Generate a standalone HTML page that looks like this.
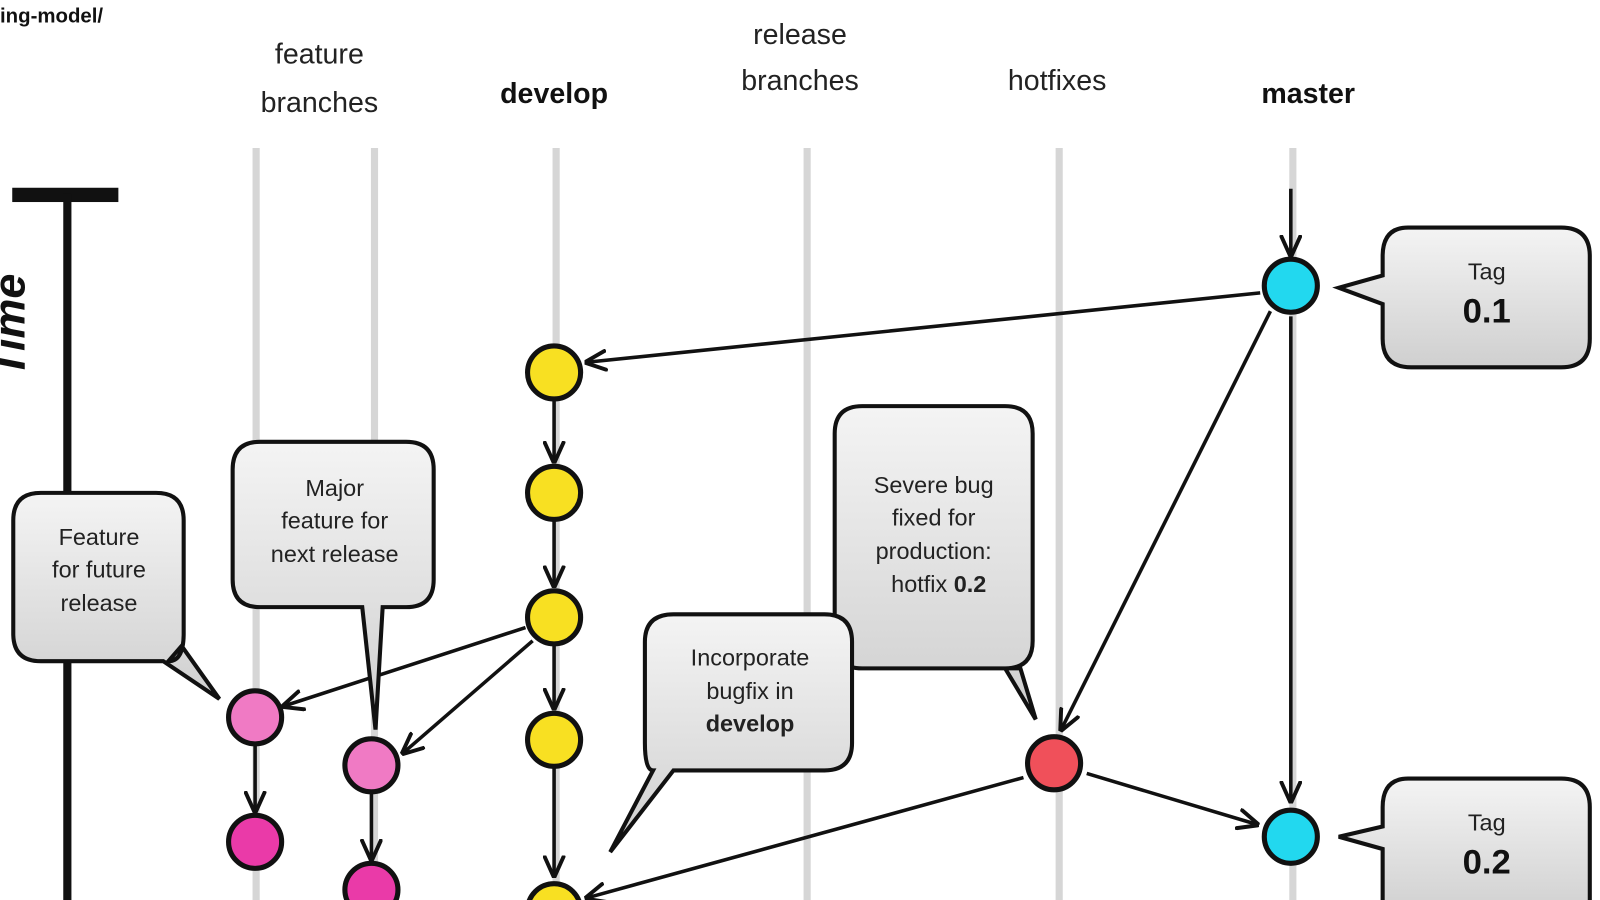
<!DOCTYPE html>
<html><head><meta charset="utf-8"><style>
html,body{margin:0;padding:0;background:#fff;width:1600px;height:900px;overflow:hidden}
svg{display:block}
text{font-family:"Liberation Sans",sans-serif}
</style></head><body>
<svg width="1600" height="900" viewBox="0 0 1568 882" xmlns="http://www.w3.org/2000/svg">
<defs>
<linearGradient id="g" x1="0" y1="0" x2="0" y2="1"><stop offset="0" stop-color="#f4f4f4"/><stop offset="1" stop-color="#cfcfcf"/></linearGradient>
<marker id="a" viewBox="0 0 20 20" refX="18" refY="10" markerWidth="22" markerHeight="22" markerUnits="userSpaceOnUse" orient="auto"><path d="M0,1 L20,10 L0,19" fill="none" stroke="#111" stroke-width="3.5"/></marker>
</defs>
<text x="0" y="22" font-size="20" font-weight="bold" fill="#111">ing-model/</text>
<g font-size="28" fill="#222" text-anchor="middle">
<text x="313" y="62">feature</text><text x="313" y="110">branches</text>
<text x="543" y="101" font-weight="bold" fill="#111">develop</text>
<text x="784" y="43">release</text><text x="784" y="88">branches</text>
<text x="1036" y="88">hotfixes</text>
<text x="1282" y="101" font-weight="bold" fill="#111">master</text>
</g>
<g stroke="#d6d6d6" stroke-width="7">
<line x1="251" y1="145" x2="251" y2="900"/><line x1="367" y1="145" x2="367" y2="900"/>
<line x1="545" y1="145" x2="545" y2="900"/><line x1="791" y1="145" x2="791" y2="900"/>
<line x1="1038" y1="145" x2="1038" y2="900"/><line x1="1267" y1="145" x2="1267" y2="900"/>
</g>
<rect x="12" y="184" width="104" height="14" fill="#111"/>
<rect x="62" y="190" width="8" height="710" fill="#111"/>
<text transform="translate(24,370) rotate(-90)" font-size="44" font-weight="bold" font-style="italic" fill="#111">Time</text>
<g stroke="#111" stroke-width="3.5" fill="none" marker-end="url(#a)">
<line x1="1265" y1="185" x2="1265" y2="250"/>
<line x1="1235" y1="287" x2="575" y2="355"/>
<line x1="1265" y1="310" x2="1265" y2="785"/>
<line x1="1245" y1="305" x2="1040" y2="715"/>
<line x1="1065" y1="758" x2="1232" y2="808"/>
<line x1="1003" y1="762" x2="575" y2="880"/>
<line x1="543" y1="392" x2="543" y2="452"/>
<line x1="543" y1="510" x2="543" y2="574"/>
<line x1="543" y1="632" x2="543" y2="694"/>
<line x1="543" y1="752" x2="543" y2="858"/>
<line x1="515" y1="615" x2="278" y2="692"/>
<line x1="522" y1="628" x2="395" y2="738"/>
<line x1="250" y1="730" x2="250" y2="795"/>
<line x1="364" y1="777" x2="364" y2="842"/>
</g>
<g stroke="#111" stroke-width="5">
<circle cx="1265" cy="280" r="26" fill="#22d8ef"/><circle cx="1265" cy="820" r="26" fill="#22d8ef"/>
<circle cx="543" cy="365" r="26" fill="#f8e022"/><circle cx="543" cy="483" r="26" fill="#f8e022"/>
<circle cx="543" cy="605" r="26" fill="#f8e022"/><circle cx="543" cy="725" r="26" fill="#f8e022"/>
<circle cx="543" cy="892" r="26" fill="#f8e022"/>
<circle cx="250" cy="703" r="26" fill="#f07ac4"/><circle cx="250" cy="825" r="26" fill="#ea3aa8"/>
<circle cx="364" cy="750" r="26" fill="#f07ac4"/><circle cx="364" cy="872" r="26" fill="#ea3aa8"/>
<circle cx="1033" cy="748" r="26" fill="#f0505a"/>
</g>
<g stroke="#111" stroke-width="4" fill="url(#g)">
<path d="M1380,223 H1530 Q1558,223 1558,251 V332 Q1558,360 1530,360 H1383 Q1355,360 1355,332 V298 L1312,282 L1355,270 V251 Q1355,223 1380,223Z"/>
<path d="M1380,763 H1530 Q1558,763 1558,791 V900 H1355 V832 L1312,820 L1355,810 V791 Q1355,763 1380,763Z"/>
<path d="M845,398 H985 Q1012,398 1012,425 V628 Q1012,655 985,655 H1000 L1015,705 L985,655 H845 Q818,655 818,628 V425 Q818,398 845,398Z"/>
<path d="M660,602 H808 Q835,602 835,629 V728 Q835,755 808,755 H660 L598,835 L640,755 Q632,755 632,728 V629 Q632,602 660,602Z"/>
<path d="M255,433 H398 Q425,433 425,460 V568 Q425,595 398,595 H375 L368,715 L355,595 H255 Q228,595 228,568 V460 Q228,433 255,433Z"/>
<path d="M40,483 H153 Q180,483 180,510 V621 Q180,648 165,648 L178,633 L215,685 L160,648 H40 Q13,648 13,621 V510 Q13,483 40,483Z"/>
</g>
<g font-size="23" fill="#222" text-anchor="middle">
<text x="1457" y="274">Tag</text><text x="1457" y="316" font-size="34" font-weight="bold" fill="#111">0.1</text>
<text x="1457" y="814">Tag</text><text x="1457" y="856" font-size="34" font-weight="bold" fill="#111">0.2</text>
<text x="915" y="483">Severe bug</text><text x="915" y="515">fixed for</text><text x="915" y="548">production:</text>
<text x="920" y="580">hotfix <tspan font-weight="bold">0.2</tspan></text>
<text x="735" y="652">Incorporate</text><text x="735" y="685">bugfix in</text><text x="735" y="717" font-weight="bold">develop</text>
<text x="328" y="486">Major</text><text x="328" y="518">feature for</text><text x="328" y="551">next release</text>
<text x="97" y="534">Feature</text><text x="97" y="566">for future</text><text x="97" y="599">release</text>
</g>
</svg>
</body></html>
